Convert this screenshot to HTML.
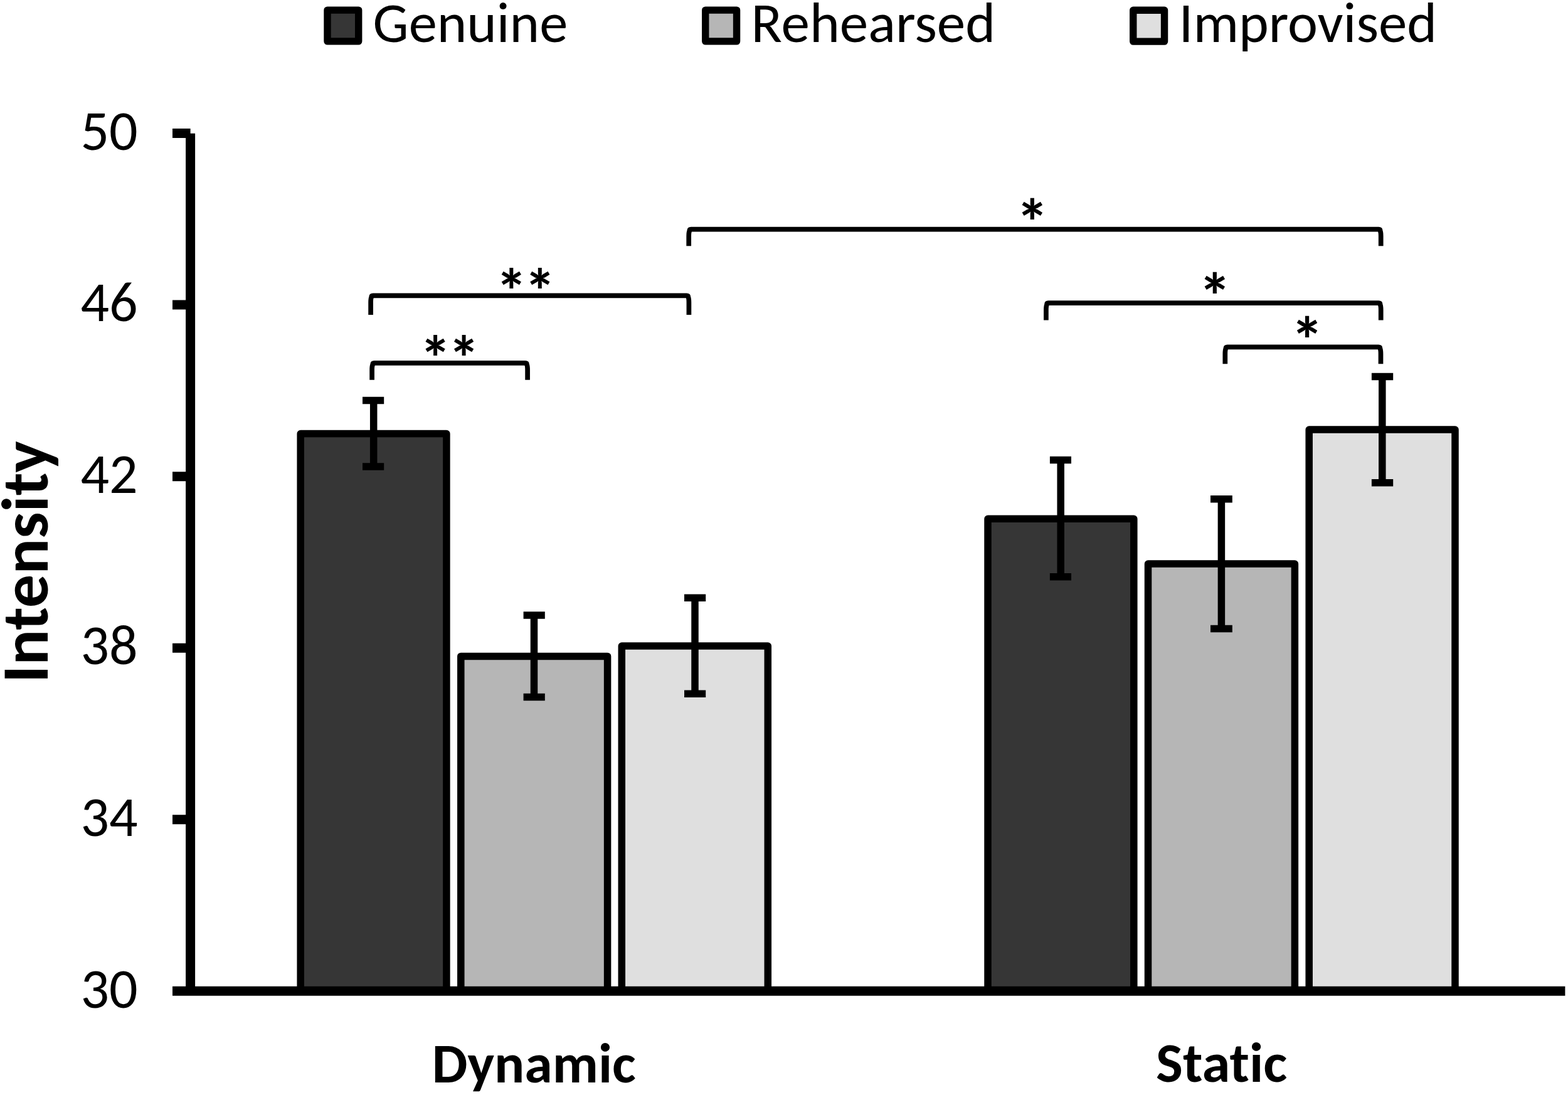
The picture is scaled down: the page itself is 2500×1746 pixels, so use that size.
<!DOCTYPE html>
<html>
<head>
<meta charset="utf-8">
<title>Intensity bar chart</title>
<style>
html,body{margin:0;padding:0;background:#fff;}
body{width:2500px;height:1746px;overflow:hidden;}
svg{display:block;}
text{font-family:"Carlito","Liberation Sans",sans-serif;fill:#000;font-variant-ligatures:none;font-kerning:normal;}
.lg{font-size:90.5px;}
.tk{font-size:90px;}
.cat{font-size:90px;font-weight:bold;}
.yt{font-size:105.6px;font-weight:bold;}
.s2{font-size:101px;font-weight:bold;}
.s1{font-size:105px;font-weight:bold;}
</style>
</head>
<body>
<svg width="2500" height="1746" viewBox="0 0 2500 1746">
  <!-- Legend -->
  <g stroke="#000" stroke-width="11.4" stroke-linejoin="round">
    <rect x="522" y="16.15" width="49.7" height="49.7" fill="#363636"/>
    <rect x="1124.75" y="16.15" width="49.8" height="49.7" fill="#b6b6b6"/>
    <rect x="1806.75" y="16.3" width="49.8" height="49.8" fill="#dfdfdf"/>
  </g>
  <text class="lg" x="594.6" y="66.9" textLength="310.6" lengthAdjust="spacingAndGlyphs">Genuine</text>
  <text class="lg" x="1197.6" y="67.1" textLength="389.6" lengthAdjust="spacingAndGlyphs">Rehearsed</text>
  <text class="lg" x="1879.5" y="67.3" textLength="411.5" lengthAdjust="spacingAndGlyphs">Improvised</text>

  <!-- Bars -->
  <g stroke="#000" stroke-width="11.5" stroke-linejoin="round">
    <rect x="479.2" y="691.5" width="232.7" height="888.5" fill="#363636"/>
    <rect x="734.8" y="1046.4" width="233.8" height="533.6" fill="#b6b6b6"/>
    <rect x="991.3" y="1030.0" width="233" height="550.0" fill="#dfdfdf"/>
    <rect x="1575" y="827.2" width="232.8" height="752.8" fill="#363636"/>
    <rect x="1830.5" y="899.1" width="233.9" height="680.9" fill="#b6b6b6"/>
    <rect x="2087.2" y="685.1" width="232.8" height="894.9" fill="#dfdfdf"/>
  </g>

  <!-- Error bars -->
  <g stroke="#000" stroke-width="11.5" fill="none">
    <path d="M595.7 638.4V744.1M578 638.4H612.2M578 744.1H612.2"/>
    <path d="M851.5 980.9V1111.5M834.6 980.9H868.8M834.6 1111.5H868.8"/>
    <path d="M1108 953.2V1106.3M1091 953.2H1125.2M1091 1106.3H1125.2"/>
    <path d="M1691.2 733.6V919.8M1673.9 733.6H1708M1673.9 919.8H1708"/>
    <path d="M1947.4 795.8V1002.6M1930 795.8H1964.8M1930 1002.6H1964.8"/>
    <path d="M2203.8 600.5V769.8M2186.9 600.5H2221.2M2186.9 769.8H2221.2"/>
  </g>

  <!-- Axes -->
  <g stroke="#000" stroke-width="15" fill="none">
    <path d="M303.6 212.7V1580.2"/>
    <path d="M275 1580.2H2495.4"/>
    <path d="M275 212.5H303.6M275 486H303.6M275 759.8H303.6M275 1033.3H303.6M275 1306.8H303.6"/>
  </g>

  <!-- Tick labels -->
  <g class="tk" text-anchor="end">
    <text x="219.6" y="238.7" textLength="91.2" lengthAdjust="spacingAndGlyphs">50</text>
    <text x="219.6" y="512.2" textLength="91.2" lengthAdjust="spacingAndGlyphs">46</text>
    <text x="219.6" y="785.9" textLength="91.2" lengthAdjust="spacingAndGlyphs">42</text>
    <text x="219.6" y="1059.4" textLength="91.2" lengthAdjust="spacingAndGlyphs">38</text>
    <text x="219.6" y="1332.9" textLength="91.2" lengthAdjust="spacingAndGlyphs">34</text>
    <text x="219.6" y="1606.9" textLength="91.2" lengthAdjust="spacingAndGlyphs">30</text>
  </g>

  <!-- Category labels -->
  <text class="cat" x="851.2" y="1725.5" text-anchor="middle" textLength="325.1" lengthAdjust="spacingAndGlyphs">Dynamic</text>
  <text class="cat" x="1947.6" y="1725.4" text-anchor="middle" textLength="209.1" lengthAdjust="spacingAndGlyphs">Static</text>

  <!-- Y title -->
  <text class="yt" transform="translate(76.2 1089.1) rotate(-90)" x="0" y="0" textLength="385.9" lengthAdjust="spacingAndGlyphs">Intensity</text>

  <!-- Significance brackets -->
  <g stroke="#000" stroke-width="7.7" fill="none" stroke-linejoin="round">
    <path d="M593.1 605.7V589.9Q593.1 583.9 594.2 581.4Q594.2 578.85 596.8 578.85H837.5Q840.0 578.85 840.0 581.4Q841.1 583.9 841.1 589.9V605.7"/>
    <path d="M591.1 502.1V482.3Q591.1 476.3 592.2 473.8Q592.2 471.30 594.7 471.30H1094.8Q1097.3 471.30 1097.3 473.8Q1098.4 476.3 1098.4 482.3V502.1"/>
    <path d="M1098.2 392.3V376.6Q1098.2 370.6 1099.3 368.1Q1099.3 365.60 1101.8 365.60H2198.1Q2200.6 365.60 2200.6 368.1Q2201.7 370.6 2201.7 376.6V392.3"/>
    <path d="M1667.9 510.5V494.2Q1667.9 488.2 1669.0 485.7Q1669.0 483.20 1671.5 483.20H2198.1Q2200.6 483.20 2200.6 485.7Q2201.7 488.2 2201.7 494.2V510.5"/>
    <path d="M1953.3 580.2V564.3Q1953.3 558.3 1954.4 555.8Q1954.4 553.30 1956.9 553.30H2197.9Q2200.4 553.30 2200.4 555.8Q2201.5 558.3 2201.5 564.3V580.2"/>
  </g>

  <!-- Asterisks -->
  <text class="s2" x="694.1 739.7" y="607.2" text-anchor="middle">**</text>
  <text class="s2" x="815.3 860.8" y="499.8" text-anchor="middle">**</text>
  <text class="s1" x="1645.9" y="391" text-anchor="middle">*</text>
  <text class="s1" x="1937" y="508.9" text-anchor="middle">*</text>
  <text class="s1" x="2084.2" y="579.3" text-anchor="middle">*</text>
</svg>
</body>
</html>
